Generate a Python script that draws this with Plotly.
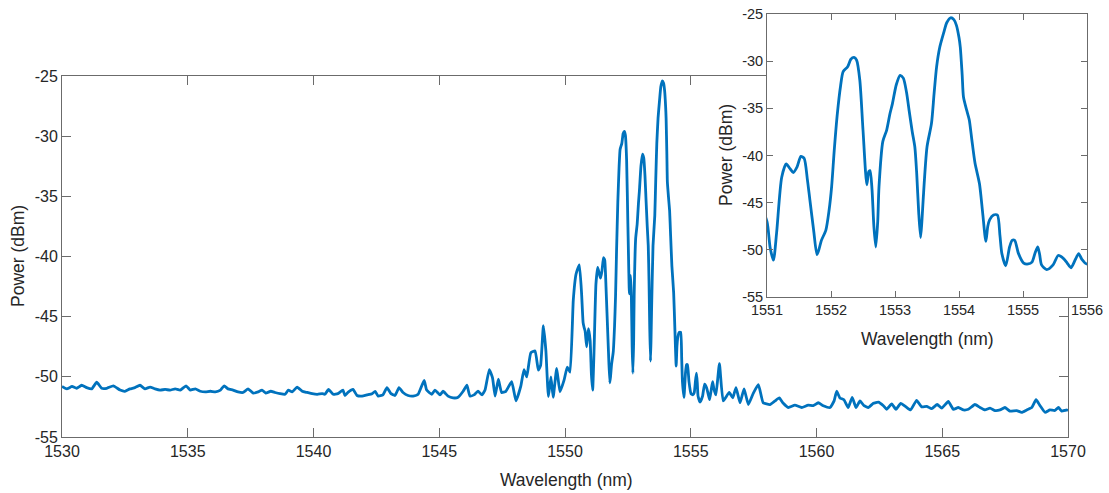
import plotly.graph_objects as go

# ---- data (wavelength in nm, power in dBm) ----
wavelength_nm = [
    1530.00, 1530.19, 1530.40, 1530.58, 1530.78, 1530.98, 1531.18, 1531.38, 1531.58, 1531.78,
    1532.04, 1532.31, 1532.50, 1532.70, 1532.90, 1533.10, 1533.30, 1533.50, 1533.70, 1533.90,
    1534.10, 1534.30, 1534.50, 1534.70, 1534.93, 1535.10, 1535.30, 1535.50, 1535.70, 1535.90,
    1536.10, 1536.30, 1536.45, 1536.60, 1536.80, 1537.00, 1537.20, 1537.40, 1537.60, 1537.80,
    1537.95, 1538.10, 1538.30, 1538.47, 1538.67, 1538.87, 1539.00, 1539.15, 1539.35, 1539.55,
    1539.75, 1539.95, 1540.15, 1540.35, 1540.45, 1540.60, 1540.78, 1540.97, 1541.17, 1541.25,
    1541.37, 1541.57, 1541.73, 1541.93, 1542.13, 1542.33, 1542.45, 1542.57, 1542.76, 1542.92,
    1543.08, 1543.24, 1543.40, 1543.56, 1543.76, 1543.96, 1544.16, 1544.40, 1544.50, 1544.70,
    1544.83, 1545.03, 1545.15, 1545.35, 1545.55, 1545.75, 1545.95, 1546.10, 1546.22, 1546.38,
    1546.54, 1546.70, 1546.82,
    1546.99, 1547.12, 1547.22, 1547.35, 1547.48, 1547.65, 1547.88, 1548.05, 1548.24, 1548.37,
    1548.48, 1548.64, 1548.81, 1548.94, 1549.03, 1549.14, 1549.24, 1549.34, 1549.44, 1549.53,
    1549.67, 1549.80, 1549.96, 1550.09, 1550.20, 1550.33, 1550.44, 1550.57, 1550.66, 1550.72,
    1550.76, 1550.80, 1550.86, 1550.93,
    1551.00, 1551.05, 1551.10, 1551.15, 1551.23, 1551.30, 1551.36, 1551.41, 1551.47, 1551.53,
    1551.58, 1551.63, 1551.67, 1551.73, 1551.78, 1551.81, 1551.85, 1551.92, 1551.97, 1552.01,
    1552.05, 1552.10, 1552.15, 1552.19, 1552.26, 1552.31, 1552.36, 1552.40, 1552.45, 1552.50,
    1552.56, 1552.59, 1552.61, 1552.64, 1552.67, 1552.70, 1552.73, 1552.75, 1552.81, 1552.87,
    1552.92, 1552.96, 1553.02, 1553.08, 1553.13, 1553.18, 1553.22, 1553.27, 1553.31, 1553.34,
    1553.37, 1553.40, 1553.42, 1553.44, 1553.50, 1553.57, 1553.61, 1553.65, 1553.70, 1553.76,
    1553.81, 1553.87, 1553.92, 1553.96, 1554.00, 1554.02, 1554.05, 1554.07, 1554.12, 1554.16,
    1554.20, 1554.25, 1554.32, 1554.37, 1554.42, 1554.45, 1554.48, 1554.54, 1554.60, 1554.64,
    1554.67, 1554.73, 1554.79, 1554.83, 1554.87, 1554.93, 1555.01, 1555.08, 1555.14, 1555.19,
    1555.23, 1555.26, 1555.29, 1555.37, 1555.47, 1555.55, 1555.63, 1555.69, 1555.75, 1555.82,
    1555.87, 1555.92, 1556.00,
    1556.14, 1556.29, 1556.53, 1556.67, 1556.80, 1556.96, 1557.12, 1557.29, 1557.49, 1557.69,
    1557.88, 1558.15, 1558.35, 1558.52, 1558.68, 1558.88, 1559.14, 1559.41, 1559.67, 1559.87,
    1560.07, 1560.27, 1560.54, 1560.70, 1560.80, 1560.93, 1561.09, 1561.26, 1561.42, 1561.57,
    1561.73, 1561.89, 1562.06, 1562.26, 1562.46, 1562.66, 1562.79, 1562.99, 1563.16, 1563.35,
    1563.56, 1563.74, 1563.98, 1564.18, 1564.38, 1564.58, 1564.80, 1564.98, 1565.24, 1565.44,
    1565.64, 1565.84, 1566.04, 1566.30, 1566.50, 1566.70, 1566.90, 1567.10, 1567.30, 1567.49,
    1567.69, 1567.96, 1568.16, 1568.36, 1568.56, 1568.73, 1568.89, 1569.09, 1569.28, 1569.48,
    1569.62, 1569.75, 1569.95, 1570.00,
]

power_dbm = [
    -50.80, -51.00, -50.80, -50.95, -50.70, -50.90, -51.00, -50.45, -50.95, -50.95,
    -50.75, -51.10, -51.20, -51.00, -50.90, -50.70, -51.00, -50.85, -51.00, -51.10,
    -51.05, -51.10, -51.00, -51.10, -50.75, -51.10, -51.00, -51.20, -51.25, -51.20,
    -51.25, -51.10, -50.75, -51.00, -51.10, -51.25, -51.30, -51.00, -51.35, -51.25,
    -51.10, -51.35, -51.20, -51.30, -51.40, -51.45, -51.10, -51.25, -50.85, -51.20,
    -51.30, -51.40, -51.45, -51.40, -51.45, -51.05, -51.45, -51.40, -51.10, -51.55,
    -51.30, -51.05, -51.55, -51.60, -51.50, -51.40, -51.20, -51.60, -51.50, -50.90,
    -51.40, -51.55, -50.90, -51.30, -51.55, -51.60, -51.45, -50.30, -51.10, -51.45,
    -51.10, -51.50, -51.20, -51.60, -51.75, -51.70, -51.20, -50.70, -51.60, -51.50,
    -51.20, -51.50, -51.10,
    -49.40, -50.10, -51.60, -50.20, -51.30, -51.20, -50.40, -52.00, -50.80, -49.40,
    -50.00, -48.00, -47.85, -49.45, -49.05, -45.75, -47.85, -51.65, -50.00, -51.70,
    -49.30, -51.25, -50.30, -49.20, -49.60, -43.60, -41.45, -40.70, -43.10, -45.50,
    -45.90, -46.20, -47.50, -46.00,
    -47.00, -49.80, -51.10, -48.20, -42.30, -40.90, -41.40, -41.80, -41.20, -40.10,
    -40.30, -42.50, -44.70, -48.00, -50.50, -50.00, -49.00, -47.90, -45.80, -43.30,
    -39.50, -35.50, -32.60, -31.10, -30.60, -29.80, -29.60, -29.90, -32.00, -37.30,
    -43.10, -41.70, -41.60, -43.50, -47.50, -49.70, -47.00, -43.30, -38.50, -37.30,
    -35.60, -34.50, -32.50, -31.50, -31.80, -33.30, -35.20, -37.50, -39.10, -42.00,
    -46.00, -48.70, -47.00, -44.70, -39.10, -36.60, -33.50, -30.60, -28.50, -27.00,
    -25.90, -25.40, -25.60, -26.20, -27.50, -28.50, -31.50, -33.80, -35.20, -36.20,
    -38.30, -40.80, -43.00, -46.10, -49.10, -47.50, -46.80, -46.30, -46.30, -48.50,
    -50.40, -51.70, -49.70, -49.00, -49.00, -50.40, -51.40, -51.50, -51.30, -50.30,
    -49.70, -50.50, -51.60, -52.10, -51.60, -50.60, -50.90, -51.40, -51.90, -51.00,
    -50.40, -51.00, -51.50,
    -48.90, -52.00, -51.30, -51.75, -50.90, -52.15, -51.00, -52.30, -51.35, -50.65,
    -52.15, -52.30, -52.00, -51.75, -52.20, -52.55, -52.35, -52.55, -52.35, -52.40,
    -52.15, -52.40, -52.55, -52.00, -51.20, -51.75, -51.90, -52.55, -51.70, -52.55,
    -52.00, -52.40, -52.55, -52.20, -52.10, -52.40, -52.70, -52.25, -52.70, -52.20,
    -52.50, -52.75, -51.95, -52.50, -52.45, -52.65, -52.30, -52.60, -52.05, -52.70,
    -52.55, -52.75, -52.70, -52.30, -52.55, -52.75, -52.60, -52.80, -52.75, -52.55,
    -52.85, -52.80, -52.95, -52.75, -52.55, -51.90, -52.40, -52.95, -52.75, -52.80,
    -52.55, -52.85, -52.75, -52.80,
]

main_x_ticks = [1530, 1535, 1540, 1545, 1550, 1555, 1560, 1565, 1570]
main_y_ticks = [-55, -50, -45, -40, -35, -30, -25]
inset_x_ticks = [1551, 1552, 1553, 1554, 1555, 1556]
inset_y_ticks = [-55, -50, -45, -40, -35, -30, -25]

x_title = "Wavelength (nm)"
y_title = "Power (dBm)"

# ---- geometry (pixels of a 1109 x 493 canvas) ----
W, H = 1109, 493
main_box = (62, 1068, 76, 437)     # left, right, top, bottom
inset_box = (767, 1087, 14, 297)

def xdom(b):
    return [b[0] / W, b[1] / W]

def ydom(b):
    return [1 - b[3] / H, 1 - b[2] / H]

def labels(vals):
    return [str(v) for v in vals]   # plain hyphen-minus, as in the reference

LINE_COLOR = "#0072BD"
TEXT_COLOR = "#262626"
AXIS_COLOR = "#6b6b6b"
FONT = "Liberation Sans, Arial, sans-serif"

fig = go.Figure()
fig.add_trace(go.Scatter(x=wavelength_nm, y=power_dbm, mode="lines",
                         line=dict(color=LINE_COLOR, width=2.8, shape="spline", smoothing=0.4),
                         xaxis="x", yaxis="y", showlegend=False, hoverinfo="skip"))
fig.add_trace(go.Scatter(x=wavelength_nm, y=power_dbm, mode="lines",
                         line=dict(color=LINE_COLOR, width=2.8, shape="spline", smoothing=0.7),
                         xaxis="x2", yaxis="y2", showlegend=False, hoverinfo="skip"))

def axis(dom, rng, anchor, ticks, ticklen, size):
    return dict(domain=dom, range=rng, anchor=anchor, automargin=False,
                tickmode="array", tickvals=ticks, ticktext=labels(ticks),
                showgrid=False, zeroline=False, showline=True, linecolor=AXIS_COLOR,
                linewidth=1, mirror="ticks", ticks="inside", ticklen=ticklen,
                tickcolor=AXIS_COLOR, tickwidth=1,
                tickfont=dict(family=FONT, color=TEXT_COLOR, size=size))

fig.update_layout(
    template="none",
    width=W, height=H,
    margin=dict(l=0, r=0, t=0, b=0, pad=0),
    paper_bgcolor="white", plot_bgcolor="white",
    font=dict(family=FONT, color=TEXT_COLOR),
    xaxis=axis(xdom(main_box), [1530, 1570], "y", main_x_ticks, 9, 16),
    yaxis=axis(ydom(main_box), [-55, -25], "x", main_y_ticks, 9, 16),
    xaxis2=axis(xdom(inset_box), [1551, 1556], "y2", inset_x_ticks, 6, 14.5),
    yaxis2=axis(ydom(inset_box), [-55, -25], "x2", inset_y_ticks, 6, 14.5),
)

fig.add_annotation(text=x_title, xref="paper", yref="paper", x=566 / W, y=1 - 480 / H,
                   showarrow=False, font=dict(size=17.5, family=FONT, color=TEXT_COLOR),
                   xanchor="center", yanchor="middle")
fig.add_annotation(text=y_title, xref="paper", yref="paper", x=18 / W, y=1 - 256 / H,
                   showarrow=False, textangle=-90, font=dict(size=17.5, family=FONT, color=TEXT_COLOR),
                   xanchor="center", yanchor="middle")
fig.add_annotation(text=x_title, xref="paper", yref="paper", x=927 / W, y=1 - 339 / H,
                   showarrow=False, font=dict(size=17.5, family=FONT, color=TEXT_COLOR),
                   xanchor="center", yanchor="middle")
fig.add_annotation(text=y_title, xref="paper", yref="paper", x=726 / W, y=1 - 155 / H,
                   showarrow=False, textangle=-90, font=dict(size=17.5, family=FONT, color=TEXT_COLOR),
                   xanchor="center", yanchor="middle")

fig.write_html("out.html",
               config={"displayModeBar": False},
               post_script="document.body.style.margin='0px';document.body.style.overflow='hidden';")
